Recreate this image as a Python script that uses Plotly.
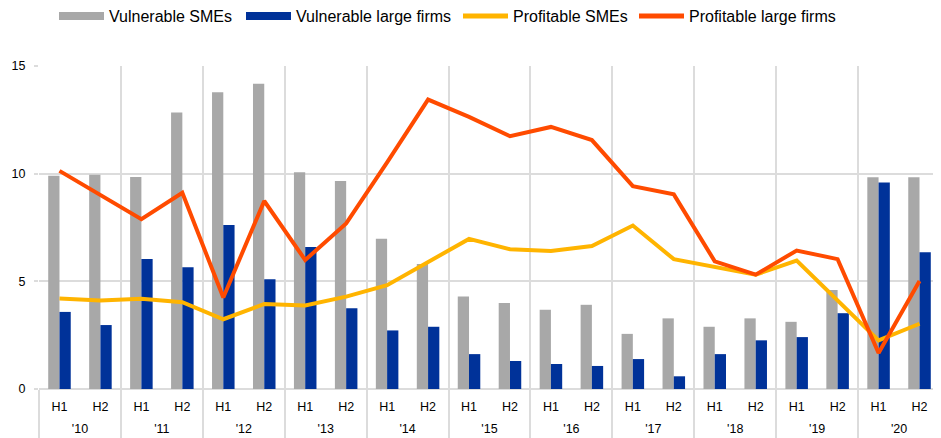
import plotly.graph_objects as go

years = ["'10", "'11", "'12", "'13", "'14", "'15", "'16", "'17", "'18", "'19", "'20"]
halves = ["H1", "H2"]

vulnerable_smes = [9.90, 9.95, 9.84, 12.84, 13.78, 14.17, 10.06, 9.66, 6.98, 5.81, 4.29,
                   3.99, 3.68, 3.91, 2.56, 3.28, 2.89, 3.28, 3.12, 4.60, 9.83, 9.83]
vulnerable_large = [3.58, 2.97, 6.04, 5.65, 7.62, 5.10, 6.60, 3.75, 2.72, 2.89, 1.62,
                    1.30, 1.16, 1.07, 1.39, 0.59, 1.62, 2.26, 2.41, 3.52, 9.59, 6.35]
profitable_smes = [4.20, 4.11, 4.19, 4.03, 3.24, 3.95, 3.88, 4.29, 4.82, 5.90, 6.97,
                   6.49, 6.41, 6.64, 7.59, 6.03, 5.69, 5.31, 5.96, 4.09, 2.26, 3.03]
profitable_large = [10.13, 9.00, 7.89, 9.11, 4.25, 8.73, 5.99, 7.69, 10.52, 13.44, 12.64,
                    11.74, 12.17, 11.56, 9.42, 9.04, 5.93, 5.31, 6.43, 6.03, 1.67, 5.02]

GREY = "#A8A8A8"
BLUE = "#003299"
YELLOW = "#FFB400"
ORANGE = "#FF4B00"
GRID = "#DCDCDC"
FONT = "Liberation Sans, Arial, sans-serif"

# the page body has an 8px margin; the figure is sized to fill the rest of the 941x438 window
W, H, PAGE_OFF = 933, 430, 8

n = len(vulnerable_smes)
x = list(range(n))
half_labels = [halves[i % 2] for i in x]
year_centres = [2 * i + 0.5 for i in range(len(years))]
boundaries = [2 * i - 0.5 for i in range(len(years) + 1)]

fig = go.Figure()
fig.add_trace(go.Bar(x=x, y=vulnerable_smes, name="Vulnerable SMEs", marker_color=GREY,
                     marker_line_width=0, showlegend=False, legendgroup="a"))
fig.add_trace(go.Bar(x=x, y=vulnerable_large, name="Vulnerable large firms", marker_color=BLUE,
                     marker_line_width=0, showlegend=False, legendgroup="b"))
fig.add_trace(go.Scatter(x=x, y=profitable_smes, name="Profitable SMEs", mode="lines",
                         line=dict(color=YELLOW, width=4), showlegend=False, legendgroup="c"))
fig.add_trace(go.Scatter(x=x, y=profitable_large, name="Profitable large firms", mode="lines",
                         line=dict(color=ORANGE, width=4), showlegend=False, legendgroup="d"))

# legend entries, one small legend each so that they can be placed like the reference
ITEM_W = 45
TEXT_GAP = ITEM_W + 10
legend_items = [("Vulnerable SMEs", GREY, 8, "a", "legend", 109),
                ("Vulnerable large firms", BLUE, 8, "b", "legend2", 296),
                ("Profitable SMEs", YELLOW, 5, "c", "legend3", 513),
                ("Profitable large firms", ORANGE, 5, "d", "legend4", 689)]
LEG_FONT = dict(family=FONT, size=16, color="#000000")
legend_layout = {}
for name, col, w, g, lg, text_x in legend_items:
    fig.add_trace(go.Scatter(x=[None], y=[None], mode="lines", name=name, legendgroup=g,
                             legend=lg, line=dict(color=col, width=w), hoverinfo="skip"))
    legend_layout[lg] = dict(xref="container", yref="container",
                             x=(text_x - PAGE_OFF - TEXT_GAP) / W, y=1 - (16 - PAGE_OFF) / H,
                             xanchor="left", yanchor="middle", font=LEG_FONT,
                             bgcolor="rgba(0,0,0,0)", itemwidth=ITEM_W, orientation="h")

# year label carrier
fig.add_trace(go.Scatter(x=year_centres, y=[0] * len(year_centres), xaxis="x2", mode="markers",
                         marker=dict(opacity=0), showlegend=False, hoverinfo="skip"))

fig.update_layout(
    width=W, height=H,
    margin=dict(l=31, r=1, t=58, b=49),
    plot_bgcolor="white", paper_bgcolor="white",
    barmode="group", bargap=0.45, bargroupgap=0,
    font=dict(family=FONT, size=12.5, color="#000000"),
    showlegend=True,
    xaxis=dict(range=[-0.5, n - 0.5], tickmode="array", tickvals=x, ticktext=half_labels,
               ticks="", showgrid=False, zeroline=False, showline=False, ticklabelstandoff=8,
               tickfont=dict(size=12.5),
               minor=dict(tickmode="array", tickvals=boundaries, ticks="outside", ticklen=49,
                          tickcolor=GRID, tickwidth=2, showgrid=True, gridcolor=GRID, gridwidth=2)),
    xaxis2=dict(range=[-0.5, n - 0.5], overlaying="x", side="bottom", anchor="y",
                tickmode="array", tickvals=year_centres, ticktext=years, ticks="",
                showgrid=False, zeroline=False, showline=False, ticklabelstandoff=30,
                tickfont=dict(size=12.5)),
    yaxis=dict(range=[0, 15], tickmode="array", tickvals=[0, 5, 10, 15], ticks="outside",
               ticklen=4, tickwidth=2, tickcolor=GRID, showgrid=True, gridcolor=GRID, gridwidth=2,
               zeroline=True, zerolinecolor=GRID, zerolinewidth=2, showline=False,
               ticklabelstandoff=6, tickfont=dict(size=12.5)),
    **legend_layout,
)

fig.write_html("out.html")
